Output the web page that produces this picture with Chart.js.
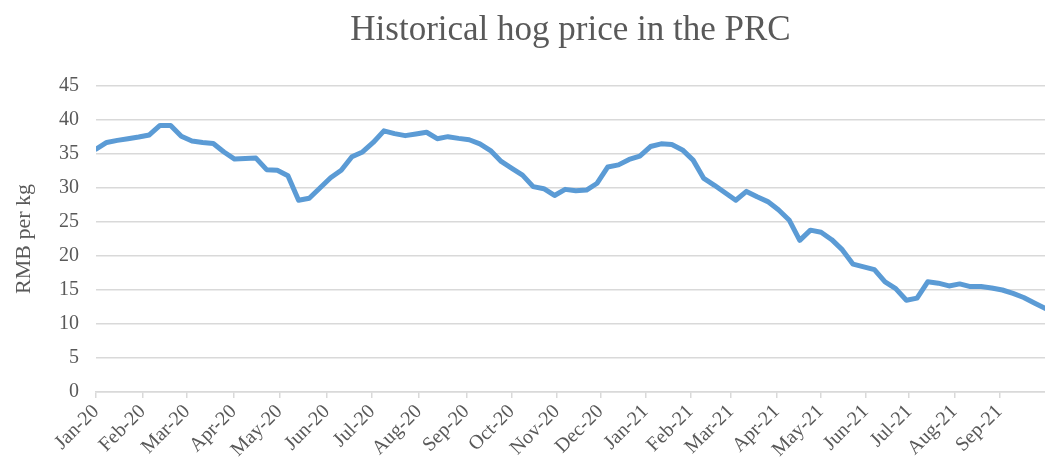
<!DOCTYPE html>
<html>
<head>
<meta charset="utf-8">
<script src="https://cdn.jsdelivr.net/npm/chart.js@4.4.0/dist/chart.umd.min.js"></script>
<style>
html,body{margin:0;padding:0;background:#ffffff;}
#wrap{width:1045px;height:466px;}
</style>
</head>
<body>
<div id="wrap"><canvas id="c" width="1045" height="466"></canvas></div>
<script>
// Weekly hog price, RMB per kg
const prices = [
  35.7, 36.7, 37.0, 37.25, 37.5, 37.8, 39.2, 39.2, 37.6, 36.9,
  36.7, 36.55, 35.3, 34.25, 34.35, 34.4, 32.7, 32.6, 31.8, 28.2,
  28.5, 30.0, 31.5, 32.6, 34.6, 35.3, 36.7, 38.4, 38.0, 37.7,
  37.95, 38.2, 37.25, 37.55, 37.3, 37.1, 36.5, 35.5, 33.9, 32.9,
  31.9, 30.2, 29.9, 28.9, 29.8, 29.6, 29.7, 30.7, 33.1, 33.4,
  34.2, 34.7, 36.1, 36.5, 36.4, 35.6, 34.1, 31.4, 30.4, 29.3,
  28.2, 29.5, 28.7, 28.0, 26.8, 25.3, 22.3, 23.8, 23.5, 22.4,
  20.9, 18.8, 18.4, 18.0, 16.2, 15.2, 13.5, 13.8, 16.2, 16.0,
  15.6, 15.9, 15.5, 15.5, 15.3, 15.0, 14.5, 13.9, 13.1, 12.3
];
// Week index at which each month label sits
const monthLabels = ['Jan-20','Feb-20','Mar-20','Apr-20','May-20','Jun-20','Jul-20','Aug-20','Sep-20','Oct-20','Nov-20','Dec-20',
                     'Jan-21','Feb-21','Mar-21','Apr-21','May-21','Jun-21','Jul-21','Aug-21','Sep-21'];
const monthWeeks = [0, 4.37, 8.54, 12.91, 17.2, 21.64, 25.9, 30.28, 34.73, 38.98, 43.23, 47.3,
                    51.52, 55.75, 59.53, 63.82, 67.95, 72.17, 76.26, 80.49, 84.71];
const yTicks = [0, 5, 10, 15, 20, 25, 30, 35, 40, 45];

const chartTitle = 'Historical hog price in the PRC';
const yTitle = 'RMB per kg';

const points = prices.map((v, i) => ({x: i, y: v}));
const serif = "'Liberation Serif', 'Times New Roman', serif";
const grey = '#595959';
const gridGrey = '#d9d9d9';

new Chart(document.getElementById('c'), {
  type: 'line',
  data: {
    datasets: [{
      data: points,
      borderColor: '#5b9bd5',
      borderWidth: 5,
      pointRadius: 0,
      tension: 0,
      borderJoinStyle: 'round',
      borderCapStyle: 'round',
      fill: false
    }]
  },
  options: {
    responsive: false,
    animation: false,
    devicePixelRatio: 1,
    layout: {padding: {left: 8, right: 0, top: 0, bottom: 0}},
    plugins: {
      legend: {display: false},
      tooltip: {enabled: false},
      title: {
        display: true,
        fullSize: false,
        text: chartTitle,
        color: grey,
        font: {family: serif, size: 35, weight: 'normal'},
        padding: {top: 10, bottom: 34}
      }
    },
    scales: {
      x: {
        type: 'linear',
        min: 0,
        max: prices.length - 1,
        afterBuildTicks: (s) => { s.ticks = monthWeeks.map(v => ({value: v})); },
        afterFit: (s) => { s.height = 74; },
        ticks: {
          autoSkip: false,
          maxRotation: 45,
          minRotation: 45,
          color: grey,
          font: {family: serif, size: 20},
          padding: 2,
          callback: (v, i) => monthLabels[i]
        },
        grid: {drawOnChartArea: false, drawTicks: true, tickLength: 6, color: gridGrey, lineWidth: 1.5},
        border: {display: true, color: gridGrey, width: 1.5}
      },
      y: {
        min: 0,
        max: 45,
        afterBuildTicks: (s) => { s.ticks = yTicks.map(v => ({value: v})); },
        afterFit: (s) => { s.width = 88; },
        ticks: {
          color: grey,
          font: {family: serif, size: 20},
          padding: 17
        },
        title: {
          display: true,
          text: yTitle,
          color: grey,
          font: {family: serif, size: 22},
          padding: {top: 3, bottom: 3}
        },
        grid: {color: gridGrey, lineWidth: 1.5, drawTicks: false},
        border: {display: false}
      }
    }
  }
});
</script>
</body>
</html>
